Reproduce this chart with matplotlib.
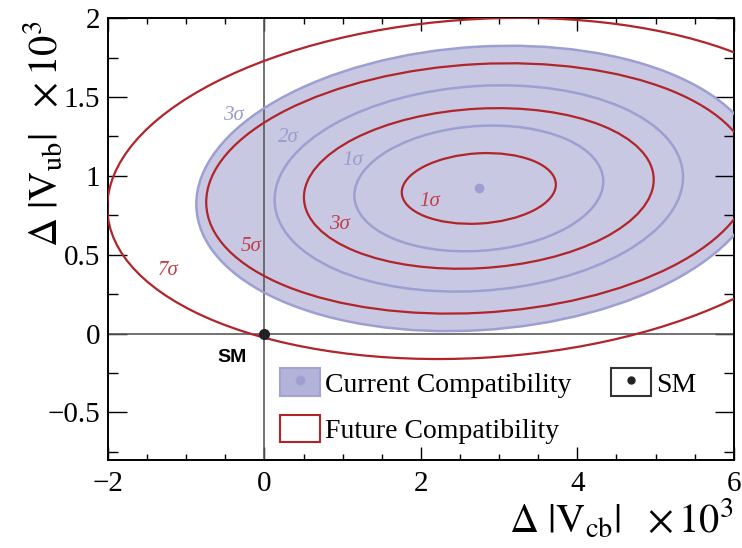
import math
import numpy as np
import matplotlib
matplotlib.use("Agg")
import matplotlib.pyplot as plt
from matplotlib.patches import Ellipse, Rectangle
from matplotlib.lines import Line2D

# ---------------- data ----------------
center = (2.74, 0.92)              # best-fit point (x10^3)
current_sigma = (1.05, 0.263)      # (sigma_x, sigma_y) current
future_sigma = (0.65, 0.148)       # (sigma_x, sigma_y) future
rho = 0.11                         # correlation
current_levels = [1, 2, 3]         # n-sigma contours (current)
future_levels = [1, 3, 5, 7]       # n-sigma contours (future)
sm_point = (0.0, 0.0)

current_label_pos = {3: (-0.40, 1.38), 2: (0.30, 1.24), 1: (1.13, 1.10)}
future_label_pos = {1: (2.11, 0.84), 3: (0.96, 0.69), 5: (-0.17, 0.55), 7: (-1.23, 0.40)}

xticks = [-2, 0, 2, 4, 6]
yticks = [-0.5, 0, 0.5, 1, 1.5, 2]

# ---------------- style ----------------
plt.rcParams['font.family'] = ['Liberation Serif', 'DejaVu Serif']
plt.rcParams['mathtext.fontset'] = 'stix'

FILL = '#c8c8e3'
BLUE = '#9d9fd2'
BLUE_TXT = '#9b9bd0'
RED = '#b0242a'
RED_TXT = '#c0404a'


def dchi2(n):
    p = math.erfc(n / math.sqrt(2.0))
    return -2.0 * math.log(p)


def ellipse(n, sig, **kw):
    sx, sy = sig
    cov = np.array([[sx * sx, rho * sx * sy], [rho * sx * sy, sy * sy]])
    vals, vecs = np.linalg.eigh(cov)
    order = vals.argsort()[::-1]
    vals, vecs = vals[order], vecs[:, order]
    q = dchi2(n)
    w = 2 * math.sqrt(q * vals[0])
    h = 2 * math.sqrt(q * vals[1])
    ang = math.degrees(math.atan2(vecs[1, 0], vecs[0, 0]))
    return Ellipse(center, w, h, angle=ang, **kw)


fig = plt.figure(figsize=(7.42, 5.48), dpi=100)
ax = fig.add_axes([0.1456, 0.161, 0.8434, 0.806])

# filled current 3 sigma region
ax.add_patch(ellipse(max(current_levels), current_sigma, facecolor=FILL,
                     edgecolor='none', zorder=1))
ax.axvline(0, color='#5a5a5a', lw=1.2, zorder=2)
ax.axhline(0, color='#5a5a5a', lw=1.2, zorder=2)
for n in current_levels:
    ax.add_patch(ellipse(n, current_sigma, facecolor='none', edgecolor=BLUE,
                         lw=1.8, zorder=3))
for n in future_levels:
    ax.add_patch(ellipse(n, future_sigma, facecolor='none', edgecolor=RED,
                         lw=1.6, zorder=4))

ax.plot(*center, 'o', color=BLUE, ms=6, zorder=5)
ax.plot(*sm_point, 'o', color='#222222', ms=7, zorder=6, clip_on=False)
ax.text(-0.41, -0.152, 'SM', family='Liberation Sans', weight='bold',
        fontsize=14, ha='center', va='center', color='black')

for n, (x, y) in current_label_pos.items():
    ax.text(x, y, f'{n}σ', color=BLUE_TXT, fontsize=15, style='italic',
            ha='center', va='center', zorder=7)
for n, (x, y) in future_label_pos.items():
    ax.text(x, y, f'{n}σ', color=RED_TXT, fontsize=15, style='italic',
            ha='center', va='center', zorder=7)

ax.set_xlim(-2, 6)
ax.set_ylim(-0.8, 2)
ax.set_xticks(xticks)
ax.set_yticks(yticks)
ax.set_xticklabels([f'{t:g}'.replace('-', '\u2212') for t in xticks])
ax.set_yticklabels([f'{t:g}'.replace('-', '\u2212') for t in yticks])
ax.xaxis.set_minor_locator(matplotlib.ticker.MultipleLocator(0.5))
ax.yaxis.set_minor_locator(matplotlib.ticker.MultipleLocator(0.25))
ax.tick_params(axis='both', which='both', direction='in', top=True, right=True,
               labelsize=21, width=1.0)
ax.tick_params(axis='x', which='major', length=9.5, pad=8)
ax.tick_params(axis='x', which='minor', length=4.5)
ax.tick_params(axis='y', which='major', length=13.5, pad=5.5)
ax.tick_params(axis='y', which='minor', length=7)
for s in ax.spines.values():
    s.set_linewidth(1.4)

ax.set_xlabel(r'$\Delta\ |\mathrm{V}_{\mathrm{cb}}|\ \ \times 10^{3}$',
              fontsize=29, ha='right', va='top')
ax.xaxis.set_label_coords(1.0, -0.086)
ax.set_ylabel(r'$\Delta\ |\mathrm{V}_{\mathrm{ub}}|\ \ \times 10^{3}$',
              fontsize=29, ha='right', va='bottom')
ax.yaxis.set_label_coords(-0.066, 0.995)

# legend
h_cur = (Rectangle((0, 0), 1, 1, facecolor='#b3b3da', edgecolor='#a3a3d3', lw=1.5),
         Line2D([], [], marker='o', ls='none', color=BLUE, ms=6))
h_fut = Rectangle((0, 0), 1, 1, facecolor='white', edgecolor=RED, lw=1.5)
h_sm = (Rectangle((0, 0), 1, 1, facecolor='white', edgecolor='#333333', lw=1.5),
        Line2D([], [], marker='o', ls='none', color='#222222', ms=5))
ax.legend([h_cur, h_fut, h_sm],
          ['Current Compatibility', 'Future Compatibility', 'SM'],
          ncol=2, frameon=False, fontsize=20, loc='upper left',
          bbox_to_anchor=(0.274, 0.207), borderaxespad=0, borderpad=0,
          handlelength=1.45, handleheight=1.15, handletextpad=0.2,
          labelspacing=0.62, columnspacing=1.4)

fig.savefig('out.png', dpi=100)
